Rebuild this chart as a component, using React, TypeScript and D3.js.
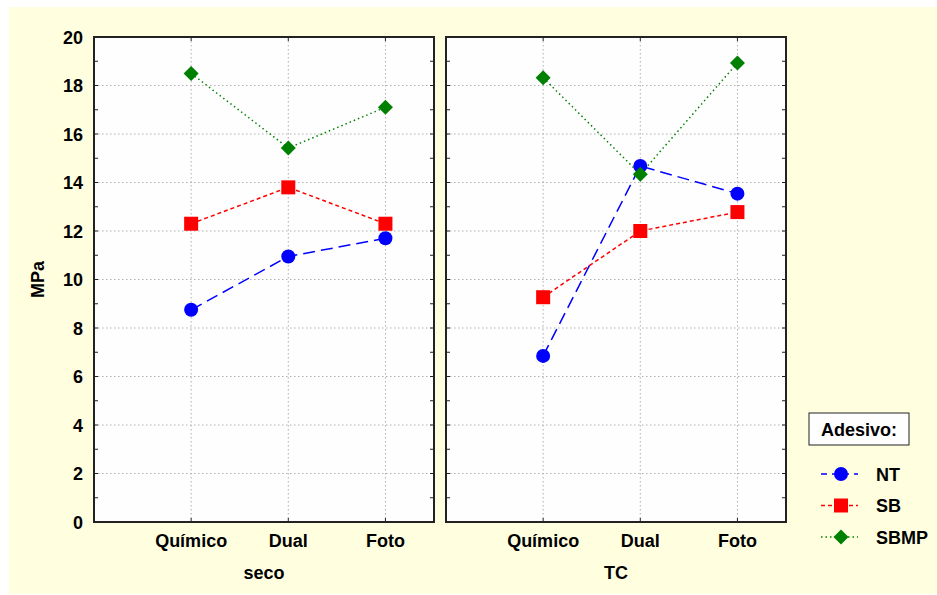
import React from "react";
import * as d3 from "d3";

const categories = ["Químico", "Dual", "Foto"];
const panels = ["seco", "TC"];
const seriesNames = ["NT", "SB", "SBMP"];
// values[panel][series][category]
const secoNT = [8.75, 10.95, 11.7];
const secoSB = [12.3, 13.8, 12.3];
const secoSBMP = [18.5, 15.42, 17.1];
const tcNT = [6.85, 14.68, 13.54];
const tcSB = [9.27, 12.0, 12.78];
const tcSBMP = [18.32, 14.34, 18.93];
const yTicks = [0, 2, 4, 6, 8, 10, 12, 14, 16, 18, 20];

const panelData = [
  [secoNT, secoSB, secoSBMP],
  [tcNT, tcSB, tcSBMP],
];

const colors = ["#0000FF", "#FF0000", "#008000"];
const dashes = ["12,6", "4,3", "1.5,3"];
const FONT = "'Liberation Sans', Arial, sans-serif";
const FS = 18;

function Marker({ kind, x, y }: { kind: number; x: number; y: number }) {
  if (kind === 0) return <circle cx={x} cy={y} r={7} fill={colors[0]} />;
  if (kind === 1)
    return <rect x={x - 7} y={y - 7} width={14} height={14} fill={colors[1]} />;
  const s = 7.5;
  return (
    <path
      d={`M${x},${y - s}L${x + s},${y}L${x},${y + s}L${x - s},${y}Z`}
      fill={colors[2]}
    />
  );
}

export default function App() {
  const W = 937;
  const H = 595;
  const top = 37;
  const bottom = 522;
  const pw = 340;
  const lefts = [94, 446];
  const y = d3.scaleLinear().domain([0, 20]).range([bottom, top]);
  const minor = d3.range(0, 21, 1);

  return (
    <svg
      width={W}
      height={H}
      style={{ position: "absolute", left: 0, top: 0 }}
      fontFamily={FONT}
    >
      <rect x={0} y={0} width={W} height={H} fill="#ffffff" />
      <rect x={9} y={7} width={W - 9} height={H - 8} fill="#FFFFE0" />
      {panels.map((p, pi) => {
        const x0 = lefts[pi];
        const x = d3.scaleLinear().domain([0, 3.5]).range([x0, x0 + pw]);
        const line = d3
          .line<number>()
          .x((_, i) => x(i + 1))
          .y((d) => y(d));
        return (
          <g key={p}>
            <rect x={x0} y={top} width={pw} height={bottom - top} fill="#FEFEFE" />
            {yTicks.slice(1, -1).map((t) => (
              <line
                key={t}
                x1={x0}
                x2={x0 + pw}
                y1={y(t)}
                y2={y(t)}
                stroke="#b0b0b0"
                strokeDasharray="1.5,2.5"
              />
            ))}
            {categories.map((c, i) => (
              <line
                key={c}
                x1={x(i + 1)}
                x2={x(i + 1)}
                y1={top}
                y2={bottom}
                stroke="#b0b0b0"
                strokeDasharray="1.5,2.5"
              />
            ))}
            {minor.map((t) => (
              <g key={"m" + t}>
                <line x1={x0} x2={x0 + 4} y1={y(t)} y2={y(t)} stroke="#222" />
                <line x1={x0 + pw - 4} x2={x0 + pw} y1={y(t)} y2={y(t)} stroke="#222" />
              </g>
            ))}
            {categories.map((c, i) => (
              <g key={"t" + c}>
                <line x1={x(i + 1)} x2={x(i + 1)} y1={top} y2={top + 4} stroke="#222" />
                <line x1={x(i + 1)} x2={x(i + 1)} y1={bottom - 4} y2={bottom} stroke="#222" />
              </g>
            ))}
            <rect
              x={x0}
              y={top}
              width={pw}
              height={bottom - top}
              fill="none"
              stroke="#222"
              strokeWidth={2}
            />
            {panelData[pi].map((vals, si) => (
              <path
                key={"l" + si}
                d={line(vals) || ""}
                fill="none"
                stroke={colors[si]}
                strokeWidth={1.5}
                strokeDasharray={dashes[si]}
              />
            ))}
            {panelData[pi].map((vals, si) =>
              vals.map((v, i) => (
                <Marker key={"k" + si + i} kind={si} x={x(i + 1)} y={y(v)} />
              ))
            )}
            {categories.map((c, i) => (
              <text
                key={"c" + c}
                x={x(i + 1)}
                y={547}
                textAnchor="middle"
                fontSize={FS}
                fontWeight="bold"
                fill="#000"
              >
                {c}
              </text>
            ))}
            <text
              x={x0 + pw / 2}
              y={579}
              textAnchor="middle"
              fontSize={FS}
              fontWeight="bold"
              fill="#000"
            >
              {p}
            </text>
          </g>
        );
      })}
      {yTicks.map((t) => (
        <text
          key={"y" + t}
          x={83}
          y={y(t) + 6.5}
          textAnchor="end"
          fontSize={FS}
          fontWeight="bold"
          fill="#000"
        >
          {t}
        </text>
      ))}
      <text
        transform={`translate(44,${(top + bottom) / 2}) rotate(-90)`}
        textAnchor="middle"
        fontSize={FS}
        fontWeight="bold"
        fill="#000"
      >
        MPa
      </text>
      <rect x={809} y={413} width={100} height={32} fill="#FEFEFE" stroke="#222" />
      <text x={859} y={435.5} textAnchor="middle" fontSize={FS} fontWeight="bold" fill="#000">
        Adesivo:
      </text>
      {seriesNames.map((s, si) => {
        const ly = 474 + si * 31.5;
        return (
          <g key={s}>
            <line
              x1={821}
              x2={858}
              y1={ly}
              y2={ly}
              stroke={colors[si]}
              strokeWidth={1.5}
              strokeDasharray={si === 0 ? "6,5" : dashes[si]}
            />
            <Marker kind={si} x={841} y={ly} />
            <text x={876} y={ly + 6.5} fontSize={FS} fontWeight="bold" fill="#000">
              {s}
            </text>
          </g>
        );
      })}
    </svg>
  );
}
